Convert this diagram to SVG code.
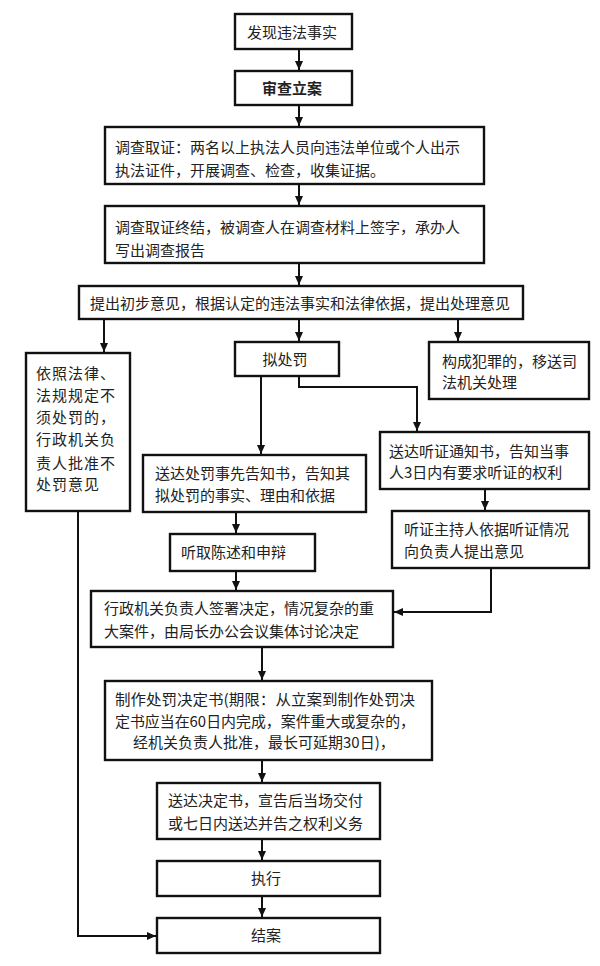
<svg xmlns="http://www.w3.org/2000/svg" width="600" height="966" viewBox="0 0 600 966">
<defs>
<style>
.box{fill:#fff;stroke:#111;stroke-width:2.4}
.t{font-family:"Noto Sans CJK SC","Noto Sans",sans-serif;font-size:15px;fill:#222}
.b{font-weight:bold}
.c{text-anchor:middle}
.ln{fill:none;stroke:#111;stroke-width:2}
</style>
<marker id="ah" markerUnits="userSpaceOnUse" markerWidth="10" markerHeight="10" refX="9" refY="4" orient="auto">
<path d="M0,0 L9,4 L0,8 z" fill="#111"/>
</marker>
</defs>
<rect width="600" height="966" fill="#fff"/>
<g id="connectors">
<path class="ln" d="M299,49 V70" marker-end="url(#ah)"/>
<path class="ln" d="M299,105 V126" marker-end="url(#ah)"/>
<path class="ln" d="M299,184 V205" marker-end="url(#ah)"/>
<path class="ln" d="M299,263 V285" marker-end="url(#ah)"/>
<path class="ln" d="M104,319 V352" marker-end="url(#ah)"/>
<path class="ln" d="M299,319 V341" marker-end="url(#ah)"/>
<path class="ln" d="M458,319 V341" marker-end="url(#ah)"/>
<path class="ln" d="M261,376 V454" marker-end="url(#ah)"/>
<path class="ln" d="M299,376 V387 H417 V431" marker-end="url(#ah)"/>
<path class="ln" d="M485,489 V510" marker-end="url(#ah)"/>
<path class="ln" d="M236,512 V533" marker-end="url(#ah)"/>
<path class="ln" d="M236,571 V590" marker-end="url(#ah)"/>
<path class="ln" d="M491,568 V612 H394" marker-end="url(#ah)"/>
<path class="ln" d="M262,647 V680" marker-end="url(#ah)"/>
<path class="ln" d="M262,760 V782" marker-end="url(#ah)"/>
<path class="ln" d="M262,839 V860" marker-end="url(#ah)"/>
<path class="ln" d="M262,896 V917" marker-end="url(#ah)"/>
<path class="ln" d="M78,511 V936 H156" marker-end="url(#ah)"/>
</g>
<g id="n1"><rect class="box" x="235" y="14" width="117" height="35"/><text class="t c" x="292" y="37.5">发现违法事实</text></g>
<g id="n2"><rect class="box" x="235" y="71" width="117" height="34"/><text class="t c b" x="292" y="93.5">审查立案</text></g>
<g id="n3"><rect class="box" x="105" y="127" width="379" height="57"/><text class="t" x="115" y="152.5">调查取证：两名以上执法人员向违法单位或个人出示</text><text class="t" x="115" y="175.5">执法证件，开展调查、检查，收集证据。</text></g>
<g id="n4"><rect class="box" x="105" y="206" width="379" height="57"/><text class="t" x="115" y="232.5">调查取证终结，被调查人在调查材料上签字，承办人</text><text class="t" x="115" y="255.5">写出调查报告</text></g>
<g id="n5"><rect class="box" x="79" y="286" width="444" height="33"/><text class="t" x="90" y="308.5">提出初步意见，根据认定的违法事实和法律依据，提出处理意见</text></g>
<g id="n6"><rect class="box" x="26" y="353" width="104" height="158"/>
<text class="t" x="36" y="378.5" letter-spacing="1">依照法律、</text>
<text class="t" x="36" y="400.5" letter-spacing="1">法规规定不</text>
<text class="t" x="36" y="422.5" letter-spacing="1">须处罚的，</text>
<text class="t" x="36" y="444.5" letter-spacing="1">行政机关负</text>
<text class="t" x="36" y="468.5" letter-spacing="1">责人批准不</text>
<text class="t" x="36" y="489.5" letter-spacing="1">处罚意见</text></g>
<g id="n7"><rect class="box" x="235" y="342" width="104" height="34"/><text class="t c" x="285" y="364.5">拟处罚</text></g>
<g id="n8"><rect class="box" x="429" y="342" width="160" height="57"/><text class="t" x="442" y="366.5">构成犯罪的，移送司</text><text class="t" x="442" y="387.5">法机关处理</text></g>
<g id="n9"><rect class="box" x="380" y="432" width="209" height="57"/><text class="t" x="389" y="456.5">送达听证通知书，告知当事</text><text class="t" x="389" y="477.5">人3日内有要求听证的权利</text></g>
<g id="n10"><rect class="box" x="392" y="511" width="197" height="57"/><text class="t" x="404" y="534.5">听证主持人依据听证情况</text><text class="t" x="404" y="556.5">向负责人提出意见</text></g>
<g id="n11"><rect class="box" x="143" y="455" width="223" height="57"/><text class="t" x="155" y="478.5">送达处罚事先告知书，告知其</text><text class="t" x="155" y="500.5">拟处罚的事实、理由和依据</text></g>
<g id="n12"><rect class="box" x="170" y="534" width="145" height="37"/><text class="t" x="181" y="557.5">听取陈述和申辩</text></g>
<g id="n13"><rect class="box" x="91" y="591" width="302" height="56"/><text class="t" x="104" y="613.5">行政机关负责人签署决定，情况复杂的重</text><text class="t" x="104" y="636.5">大案件，由局长办公会议集体讨论决定</text></g>
<g id="n14"><rect class="box" x="105" y="681" width="327" height="79"/><text class="t" x="115" y="704.5" textLength="300" lengthAdjust="spacingAndGlyphs">制作处罚决定书(期限：从立案到制作处罚决</text><text class="t" x="115" y="726.5" textLength="300" lengthAdjust="spacingAndGlyphs">定书应当在60日内完成，案件重大或复杂的，</text><text class="t" x="133" y="747.5">经机关负责人批准，最长可延期30日)，</text></g>
<g id="n15"><rect class="box" x="157" y="783" width="223" height="56"/><text class="t" x="168" y="805.5">送达决定书，宣告后当场交付</text><text class="t" x="168" y="828.5">或七日内送达并告之权利义务</text></g>
<g id="n16"><rect class="box" x="157" y="861" width="223" height="35"/><text class="t c" x="266" y="883.5">执行</text></g>
<g id="n17"><rect class="box" x="157" y="918" width="223" height="35"/><text class="t c" x="266" y="940.5">结案</text></g>
</svg>
